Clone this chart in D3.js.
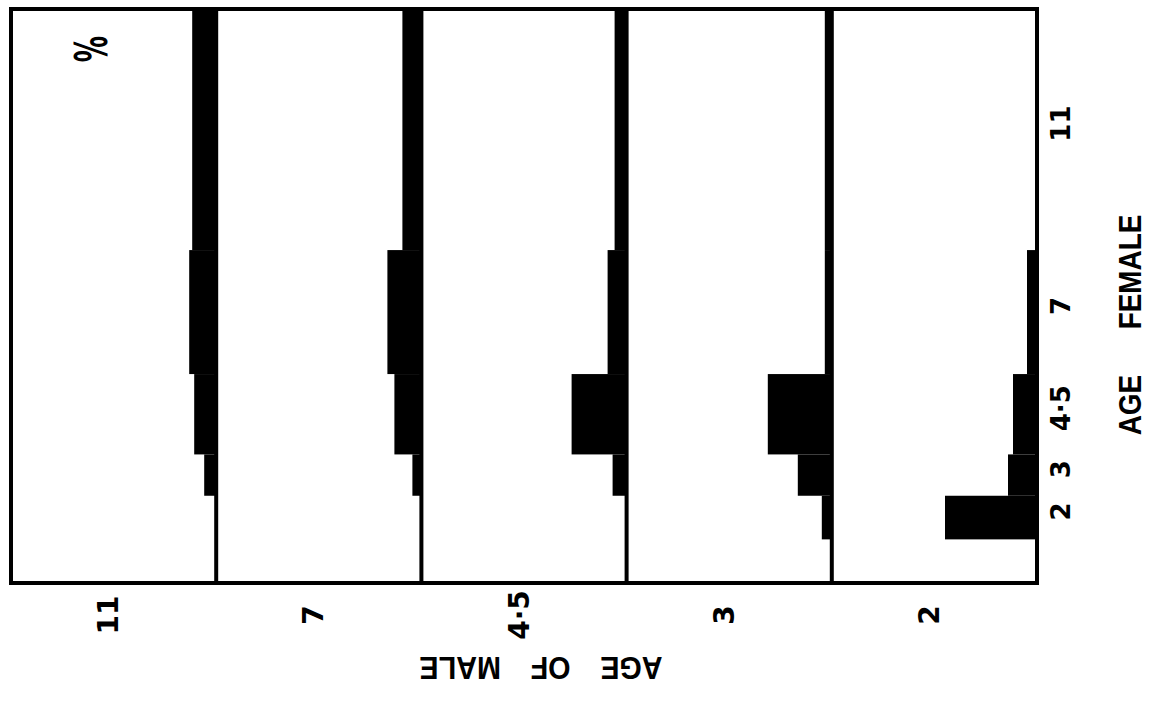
<!DOCTYPE html>
<html>
<head>
<meta charset="utf-8">
<script src="https://cdn.jsdelivr.net/npm/d3@7"></script>
<style>
  body { margin: 0; background: #fff; }
  svg { display: block; }
  text { fill: #000; font-weight: bold; }
</style>
</head>
<body>
<svg id="chart" width="1150" height="704"></svg>
<script>
// age classes of the male (one panel each) and of the female (steps inside a panel)
var maleAges = ["11", "7", "4·5", "3", "2"];
var femaleAges = ["2", "3", "4·5", "7", "11"];
// limits of the female age classes, in years
var femaleEdges = [1.45, 2.4, 3.3, 5.05, 7.75, 13];

// % of matings with females of age 2, 3, 4.5, 7, 11
var pctMale11 = [0, 12, 22, 27, 24];
var pctMale7 = [0, 9, 27, 34, 19];
var pctMale45 = [0, 14, 55, 19, 12];
var pctMale3 = [10, 34, 64, 7, 7];
var pctMale2 = [92, 29, 24, 10, 0];

var rows = [pctMale11, pctMale7, pctMale45, pctMale3, pctMale2];

var svg = d3.select("#chart");
var x0 = 11, x1 = 1037, y0 = 9, y1 = 583;

var male = d3.scaleBand().domain(maleAges).range([x0, x1]);
var age = d3.scaleLinear().domain([0.5, 13]).range([y1, y0]);
var pct = d3.scaleLinear().domain([0, 100]).range([0, 100]);
var bw = male.bandwidth();

var panels = svg.selectAll("g.panel")
	.data(maleAges)
	.enter().append("g").attr("class", "panel")
	.attr("transform", function(d) { return "translate(" + (male(d) + bw) + ",0)"; });

//bars grow to the left of each panel's base line
panels.selectAll("rect")
	.data(function(d, i) { return rows[i]; })
	.enter().append("rect")
	.attr("x", function(v) { return -pct(v); })
	.attr("width", function(v) { return pct(v); })
	.attr("y", function(v, j) { return age(femaleEdges[j + 1]); })
	.attr("height", function(v, j) { return age(femaleEdges[j]) - age(femaleEdges[j + 1]); })
	.attr("fill", "#000");

//base lines
panels.append("line")
	.attr("x1", 0).attr("x2", 0)
	.attr("y1", y0).attr("y2", y1)
	.attr("stroke", "#000").attr("stroke-width", 4);

//frame
svg.append("rect")
	.attr("x", x0).attr("y", y0)
	.attr("width", x1 - x0).attr("height", y1 - y0)
	.attr("fill", "none").attr("stroke", "#000").attr("stroke-width", 4);

//female age labels, at the middle of each class
svg.selectAll("text.fem")
	.data(femaleAges)
	.enter().append("text").attr("class", "fem")
	.attr("transform", function(d, i) {
		var yc = (age(femaleEdges[i]) + age(femaleEdges[i + 1])) / 2 - 6;
		return "translate(1061," + yc + ") rotate(-90)";
	})
	.attr("text-anchor", "middle").attr("dominant-baseline", "central")
	.style("font-family", "DejaVu Sans").style("font-size", "26px")
	.text(function(d) { return d; });

//male age labels under the panels
svg.selectAll("text.male")
	.data(maleAges)
	.enter().append("text").attr("class", "male")
	.attr("transform", function(d) {
		return "translate(" + (male(d) + bw / 2 - 5) + ",615) rotate(-90)";
	})
	.attr("text-anchor", "middle").attr("dominant-baseline", "central")
	.style("font-family", "DejaVu Sans").style("font-size", "28px")
	.text(function(d) { return d; });

svg.append("text")
	.attr("transform", "translate(1130,325) rotate(-90) scale(0.9,1)")
	.attr("text-anchor", "middle").attr("dominant-baseline", "central")
	.style("font-family", "Liberation Sans").style("font-size", "31px")
	.style("word-spacing", "42px")
	.text("AGE FEMALE");

svg.append("text")
	.attr("transform", "translate(541,669) rotate(180) scale(0.9,1)")
	.attr("text-anchor", "middle").attr("dominant-baseline", "central")
	.style("font-family", "Liberation Sans").style("font-size", "32px")
	.style("word-spacing", "24px")
	.text("AGE OF MALE");

svg.append("text")
	.attr("transform", "translate(92,49) rotate(-90) scale(0.6,1)")
	.attr("text-anchor", "middle").attr("dominant-baseline", "central")
	.style("font-family", "DejaVu Sans").style("font-size", "44px")
	.text("%");
</script>
</body>
</html>
